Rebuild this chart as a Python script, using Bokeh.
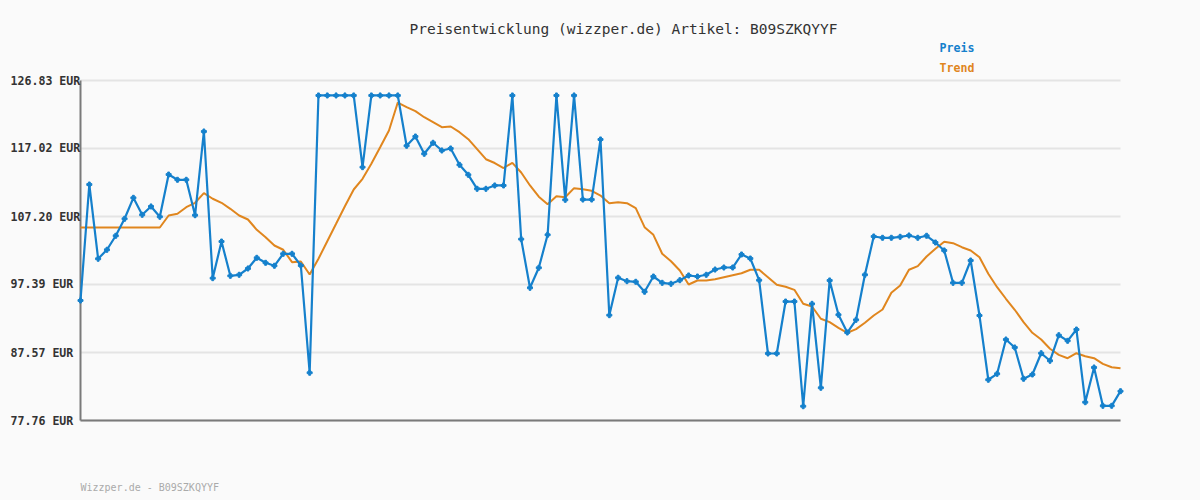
from bokeh.plotting import figure
from bokeh.models import Range1d
from bokeh.core.properties import value
from bokeh.embed import file_html
from bokeh.resources import INLINE

title_text = "Preisentwicklung (wizzper.de) Artikel: B09SZKQYYF"
footer_text = "Wizzper.de - B09SZKQYYF"
series_names = ["Preis", "Trend"]
y_ticks = [77.76, 87.57, 97.39, 107.20, 117.02, 126.83]
y_tick_labels = ["77.76 EUR", "87.57 EUR", "97.39 EUR", "107.20 EUR", "117.02 EUR", "126.83 EUR"]

preis = [95.08, 111.82, 101.10, 102.40, 104.42, 106.87, 109.90, 107.45, 108.65, 107.16,
         113.26, 112.50, 112.50, 107.39, 119.47, 98.30, 103.59, 98.64, 98.79, 99.70,
         101.24, 100.52, 100.09, 101.82, 101.82, 100.13, 84.65, 124.67, 124.67, 124.67,
         124.67, 124.67, 114.32, 124.67, 124.67, 124.67, 124.67, 117.41, 118.75, 116.25,
         117.84, 116.73, 117.02, 114.66, 113.22, 111.20, 111.20, 111.68, 111.68, 124.67,
         103.93, 96.91, 99.80, 104.56, 124.67, 109.61, 124.67, 109.65, 109.65, 118.32,
         92.96, 98.36, 97.87, 97.78, 96.34, 98.54, 97.63, 97.49, 98.01, 98.69,
         98.54, 98.79, 99.55, 99.84, 99.84, 101.72, 101.14, 98.01, 87.43, 87.43,
         94.93, 94.93, 79.82, 94.60, 82.48, 97.97, 93.02, 90.46, 92.29, 98.79,
         104.32, 104.13, 104.13, 104.27, 104.46, 104.13, 104.42, 103.45, 102.30, 97.63,
         97.63, 100.85, 92.91, 83.64, 84.50, 89.45, 88.30, 83.78, 84.40, 87.47,
         86.38, 90.07, 89.26, 90.89, 80.40, 85.41, 79.88, 79.88, 81.99]

trend = [105.61, 105.61, 105.61, 105.61, 105.61, 105.61, 105.61, 105.61, 105.61, 105.61,
         107.35, 107.59, 108.54, 109.18, 110.57, 109.76, 109.18, 108.31, 107.35, 106.77,
         105.28, 104.22, 103.02, 102.40, 100.61, 100.71, 98.83, 101.10, 103.64, 106.15,
         108.69, 111.10, 112.64, 114.81, 117.20, 119.61, 123.65, 122.98, 122.40, 121.53,
         120.81, 120.09, 120.19, 119.37, 118.36, 116.92, 115.47, 114.92, 114.20, 114.95,
         113.55, 111.68, 110.06, 108.98, 110.12, 109.99, 111.29, 111.14, 110.91, 110.23,
         109.12, 109.27, 109.12, 108.40, 105.66, 104.56, 101.82, 100.75, 99.41, 97.39,
         97.97, 97.97, 98.15, 98.44, 98.73, 99.02, 99.51, 99.51, 98.44, 97.35,
         97.06, 96.62, 94.60, 94.21, 92.44, 91.95, 91.14, 90.42, 90.94, 91.86,
         92.91, 93.78, 96.19, 97.24, 99.51, 100.03, 101.43, 102.54, 103.55, 103.35,
         102.77, 102.30, 101.33, 98.93, 97.00, 95.33, 93.74, 91.95, 90.42, 89.45,
         88.11, 87.24, 86.75, 87.47, 87.04, 86.75, 85.94, 85.45, 85.31]

idx = list(range(len(preis)))

BG = "#fafafa"
BLUE = "#1580cc"
ORANGE = "#e0861e"
FONT = value("DejaVu Sans Mono")

W, H = 1200, 500
L, R, T, B = 80, 1120, 80, 420          # plot area in pixels
px_per_x = (R - L) / (len(preis) - 1)
px_per_y = (B - T) / (y_ticks[-1] - y_ticks[0])

def sx(px):
    return (px - L) / px_per_x

def sy(py):
    return y_ticks[-1] + (T - py) / px_per_y

p = figure(width=W, height=H, output_backend="svg", toolbar_location=None,
           x_axis_type=None, y_axis_type=None,
           x_range=Range1d(sx(0), sx(W)), y_range=Range1d(sy(H), sy(0)),
           min_border=0)
p.background_fill_color = BG
p.border_fill_color = BG
p.outline_line_color = None
p.grid.visible = False

# horizontal grid lines at the tick values
p.segment(x0=[idx[0]] * len(y_ticks), x1=[idx[-1]] * len(y_ticks), y0=y_ticks, y1=y_ticks,
          line_color="#e4e4e4", line_width=2)

# axis lines
p.segment(x0=[idx[0], idx[0]], x1=[idx[0], idx[-1]],
          y0=[y_ticks[0], y_ticks[0]], y1=[y_ticks[-1], y_ticks[0]],
          line_color="#7a7a7a", line_width=2)

p.line(idx, trend, line_color=ORANGE, line_width=2)
p.line(idx, preis, line_color=BLUE, line_width=2.2)
p.scatter(idx, preis, marker="plus", size=5, fill_color=BLUE, line_color=BLUE)

# y tick labels (left aligned, as in the reference)
p.text(x=[sx(10)] * len(y_ticks), y=y_ticks, text=y_tick_labels, text_font=FONT,
       text_font_size="11.6px", text_font_style="bold", text_color="#333333",
       text_align="left", text_baseline="middle")

# title
p.text(x=[sx(623)], y=[sy(28)], text=[title_text], text_font=FONT,
       text_font_size="14.5px", text_color="#333333",
       text_align="center", text_baseline="middle")

# legend
p.text(x=[sx(939)], y=[sy(47)], text=[series_names[0]], text_font=FONT,
       text_font_size="11.6px", text_font_style="bold", text_color=BLUE,
       text_align="left", text_baseline="middle")
p.text(x=[sx(939)], y=[sy(67)], text=[series_names[1]], text_font=FONT,
       text_font_size="11.6px", text_font_style="bold", text_color=ORANGE,
       text_align="left", text_baseline="middle")

# footer
p.text(x=[sx(80)], y=[sy(487)], text=[footer_text], text_font=FONT,
       text_font_size="10px", text_color="#aaaaaa",
       text_align="left", text_baseline="middle")

html = file_html(p, INLINE)
html = html.replace("<head>", "<head><style>body{background:#fafafa;}</style>", 1)
open("out.html", "w").write(html)
